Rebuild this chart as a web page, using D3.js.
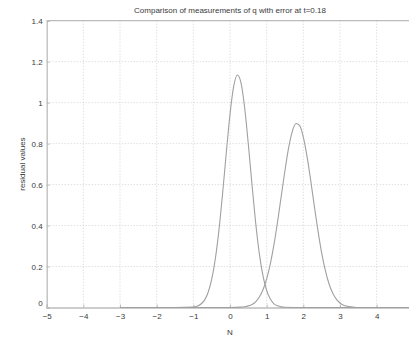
<!DOCTYPE html>
<html>
<head>
<meta charset="utf-8">
<script src="https://cdn.jsdelivr.net/npm/d3@7"></script>
<style>
  body { margin: 0; background: #fff; }
  svg { display: block; font-family: "Liberation Sans", Arial, sans-serif; }
</style>
</head>
<body>
<svg id="chart" width="409" height="337"></svg>
<script>
// valori (il tick 5 cade fuori dalla finestra)
const xTicks = [-5, -4, -3, -2, -1, 0, 1, 2, 3, 4]
const yTicks = [0, 0.2, 0.4, 0.6, 0.8, 1, 1.2, 1.4]

// prima curva (picco vicino a 0.2)
const curve1X = [-3, -1.5, -1.0, -0.9, -0.8, -0.7, -0.6, -0.5, -0.4, -0.3, -0.2, -0.1, 0, 0.1, 0.2, 0.3, 0.4, 0.5, 0.6, 0.7, 0.8, 0.9, 1.0, 1.1, 1.2, 1.3, 1.4, 1.5, 2, 5]
const curve1Y = [0, 0, 0.002, 0.006, 0.016, 0.035, 0.072, 0.137, 0.238, 0.380, 0.560, 0.758, 0.943, 1.079, 1.135, 1.097, 0.975, 0.797, 0.599, 0.414, 0.263, 0.154, 0.083, 0.041, 0.018, 0.008, 0.003, 0.001, 0, 0]

// seconda curva (picco vicino a 1.8)
const curve2X = [-3, 0, 0.3, 0.4, 0.5, 0.6, 0.7, 0.8, 0.9, 1.0, 1.1, 1.2, 1.3, 1.4, 1.5, 1.6, 1.7, 1.8, 1.9, 2.0, 2.1, 2.2, 2.3, 2.4, 2.5, 2.6, 2.7, 2.8, 2.9, 3.0, 3.1, 3.2, 3.3, 3.4, 3.5, 4, 5]
const curve2Y = [0, 0, 0.002, 0.004, 0.008, 0.015, 0.028, 0.051, 0.087, 0.140, 0.213, 0.308, 0.421, 0.546, 0.670, 0.780, 0.860, 0.898, 0.888, 0.832, 0.739, 0.622, 0.495, 0.374, 0.267, 0.181, 0.116, 0.071, 0.041, 0.022, 0.011, 0.006, 0.003, 0.001, 0, 0, 0]

const svg = d3.select('#chart')

// area del grafico (la parte destra esce dalla finestra)
const padLeft = 46.7, padRight = 413.3, padTop = 20.7, padBottom = 307.5

const textColor = '#3a3a3a'
const axisColor = '#bcbcbc'
const gridColor = '#d2d2d2'
const lineColor = '#a0a0a0'

const xScale = d3.scaleLinear().domain([-5, 5]).range([padLeft, padRight])
const yScale = d3.scaleLinear().domain([0, 1.4]).range([padBottom, padTop])

// griglia verticale
svg.append('g')
  .selectAll('line')
  .data(xTicks.slice(1))
  .enter()
  .append('line')
  .attr('x1', d => xScale(d)).attr('x2', d => xScale(d))
  .attr('y1', padTop).attr('y2', padBottom)
  .style('stroke', gridColor)
  .style('stroke-dasharray', '1,2')

// griglia orizzontale
svg.append('g')
  .selectAll('line')
  .data(yTicks.slice(1, -1))
  .enter()
  .append('line')
  .attr('x1', padLeft).attr('x2', padRight)
  .attr('y1', d => yScale(d)).attr('y2', d => yScale(d))
  .style('stroke', gridColor)
  .style('stroke-dasharray', '1,2')

// asse x
const xAxis = d3.axisBottom(xScale).tickValues(xTicks).tickSize(-3).tickPadding(6).tickFormat(d3.format('d'))
const gx = svg.append('g').attr('transform', `translate(0, ${padBottom})`).call(xAxis)

// asse y
const yAxis = d3.axisLeft(yScale).tickValues(yTicks).tickSize(-3).tickPadding(4).tickFormat(d => d)
const gy = svg.append('g').attr('transform', `translate(${padLeft}, 0)`).call(yAxis)

// asse superiore (bordo)
svg.append('line')
  .attr('x1', padLeft).attr('x2', padRight)
  .attr('y1', padTop).attr('y2', padTop)
  .style('stroke', axisColor)
  .style('stroke-width', 1.3)

svg.selectAll('path.domain').style('stroke', axisColor).style('stroke-width', 1.3)
svg.selectAll('.tick line').style('stroke', axisColor)
svg.selectAll('.tick text').style('fill', textColor).style('font-size', '8px')
gy.select('.tick text').attr('dy', '-0.2em')

// curve
const line = d3.line()
  .x(d => xScale(d[0]))
  .y(d => yScale(d[1]))
  .curve(d3.curveMonotoneX)

svg.append('path')
  .datum(d3.zip(curve1X, curve1Y))
  .attr('d', line)
  .style('fill', 'none')
  .style('stroke', lineColor)
  .style('stroke-width', 1.1)

svg.append('path')
  .datum(d3.zip(curve2X, curve2Y))
  .attr('d', line)
  .style('fill', 'none')
  .style('stroke', lineColor)
  .style('stroke-width', 1.1)

// titolo
svg.append('text')
  .attr('x', (padLeft + padRight) / 2)
  .attr('y', 13)
  .style('text-anchor', 'middle')
  .style('font-size', '8px')
  .style('fill', textColor)
  .text('Comparison of measurements of q with error at t=0.18')

// etichetta asse x
svg.append('text')
  .attr('x', (padLeft + padRight) / 2)
  .attr('y', 335)
  .style('text-anchor', 'middle')
  .style('font-size', '8px')
  .style('fill', textColor)
  .text('N')

// etichetta asse y
svg.append('text')
  .attr('transform', 'rotate(-90)')
  .attr('x', -(padTop + padBottom) / 2)
  .attr('y', 25)
  .style('text-anchor', 'middle')
  .style('font-size', '8px')
  .style('fill', textColor)
  .text('residual values')
</script>
</body>
</html>
